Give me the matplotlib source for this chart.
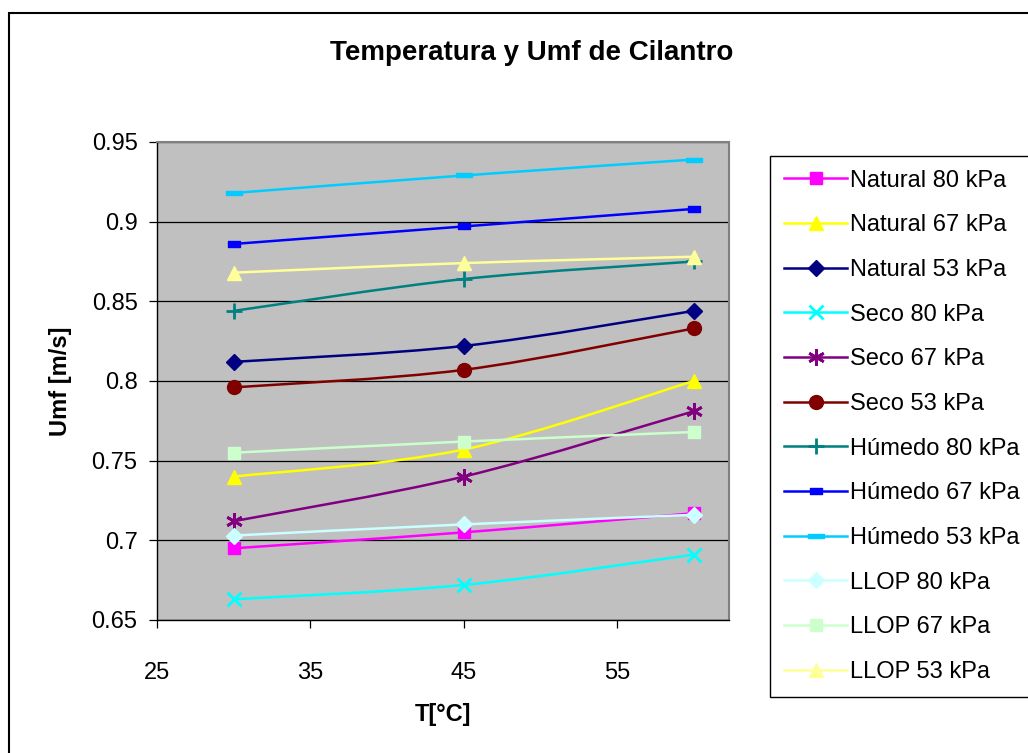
import numpy as np
import matplotlib
matplotlib.use('Agg')
import matplotlib.pyplot as plt
from matplotlib.path import Path
from matplotlib.patches import PathPatch, Rectangle
from matplotlib.lines import Line2D

plt.rcParams['font.family'] = ['Liberation Sans', 'DejaVu Sans']

# data
temps = [30, 45, 60]
series_names = ['Natural 80 kPa', 'Natural 67 kPa', 'Natural 53 kPa',
                'Seco 80 kPa', 'Seco 67 kPa', 'Seco 53 kPa',
                'Húmedo 80 kPa', 'Húmedo 67 kPa', 'Húmedo 53 kPa',
                'LLOP 80 kPa', 'LLOP 67 kPa', 'LLOP 53 kPa']
natural_80 = [0.695, 0.705, 0.717]
natural_67 = [0.740, 0.757, 0.800]
natural_53 = [0.812, 0.822, 0.844]
seco_80 = [0.663, 0.672, 0.691]
seco_67 = [0.712, 0.740, 0.781]
seco_53 = [0.796, 0.807, 0.833]
humedo_80 = [0.844, 0.864, 0.875]
humedo_67 = [0.886, 0.897, 0.908]
humedo_53 = [0.918, 0.929, 0.939]
llop_80 = [0.703, 0.710, 0.716]
llop_67 = [0.755, 0.762, 0.768]
llop_53 = [0.868, 0.874, 0.878]
series_values = [natural_80, natural_67, natural_53,
                 seco_80, seco_67, seco_53,
                 humedo_80, humedo_67, humedo_53,
                 llop_80, llop_67, llop_53]
y_ticks = [0.65, 0.7, 0.75, 0.8, 0.85, 0.9, 0.95]
x_ticks = [25, 35, 45, 55]

# Excel-like dash markers (small flat rectangles)
short_dash = Path([(-0.6, -0.3), (0.6, -0.3), (0.6, 0.3), (-0.6, 0.3), (-0.6, -0.3)],
                  [Path.MOVETO, Path.LINETO, Path.LINETO, Path.LINETO, Path.CLOSEPOLY])
long_dash = Path([(-1, -0.3), (1, -0.3), (1, 0.3), (-1, 0.3), (-1, -0.3)],
                 [Path.MOVETO, Path.LINETO, Path.LINETO, Path.LINETO, Path.CLOSEPOLY])

styles = [
    ('#FF00FF', 's', 9, 1.0),
    ('#FFFF00', '^', 10, 1.0),
    ('#000080', 'D', 8, 1.0),
    ('#00FFFF', 'x', 10, 2.0),
    ('#800080', (6, 2, 0), 12, 2.0),
    ('#800000', 'o', 10, 1.0),
    ('#008080', '+', 12, 2.0),
    ('#0000FF', short_dash, 9, 1.0),
    ('#00CCFF', long_dash, 11, 1.0),
    ('#CCFFFF', 'D', 8, 1.0),
    ('#CCFFCC', 's', 9, 1.0),
    ('#FFFF99', '^', 10, 1.0),
]


def smooth_path(xs, ys):
    """Catmull-Rom style smoothed path through the points (like Excel)."""
    p = np.column_stack([xs, ys]).astype(float)
    n = len(p)
    verts = [p[0]]
    codes = [Path.MOVETO]
    for i in range(n - 1):
        p0 = p[max(i - 1, 0)]
        p1 = p[i]
        p2 = p[i + 1]
        p3 = p[min(i + 2, n - 1)]
        c1 = p1 + (p2 - p0) / 6.0
        c2 = p2 - (p3 - p1) / 6.0
        verts += [c1, c2, p2]
        codes += [Path.CURVE4] * 3
    return Path(verts, codes)


fig = plt.figure(figsize=(10.28, 7.53), dpi=100)
ax = fig.add_axes([157 / 1028, 1 - 620 / 753, 572 / 1028, 478 / 753])
ax.set_facecolor('#C0C0C0')

handles = []
for name, vals, (color, marker, ms, mew) in zip(series_names, series_values, styles):
    patch = PathPatch(smooth_path(temps, vals), facecolor='none', edgecolor=color,
                      linewidth=1.8, zorder=3)
    ax.add_patch(patch)
    ax.plot(temps, vals, linestyle='none', marker=marker, markersize=ms,
            color=color, markeredgecolor=color, markeredgewidth=mew, zorder=4)
    handles.append(Line2D([], [], color=color, linewidth=1.8, marker=marker,
                          markersize=ms, markeredgecolor=color, markeredgewidth=mew))

ax.set_xlim(25, 62.3)
ax.set_ylim(0.65, 0.95)
ax.set_xticks(x_ticks)
ax.set_xticklabels([str(t) for t in x_ticks])
ax.set_yticks(y_ticks)
ax.set_yticklabels(['{:g}'.format(t) for t in y_ticks])
ax.yaxis.grid(True, color='black', linewidth=0.9)
ax.set_axisbelow(True)
ax.tick_params(axis='both', direction='out', length=6, width=0.9, labelsize=17)
ax.tick_params(axis='x', pad=24)
ax.tick_params(axis='y', pad=8)
for side in ax.spines.values():
    side.set_color('#808080')
    side.set_linewidth(1.5)
ax.spines['left'].set_color('black')
ax.spines['bottom'].set_color('black')
ax.spines['left'].set_linewidth(1.0)
ax.spines['bottom'].set_linewidth(1.0)

ax.set_xlabel('T[°C]', fontsize=17, fontweight='bold', labelpad=14)
ax.set_ylabel('Umf [m/s]', fontsize=17, fontweight='bold', labelpad=14)
fig.text(532 / 1028, 1 - 53 / 753, 'Temperatura y Umf de Cilantro', fontsize=20,
         fontweight='bold', ha='center', va='center')

leg = fig.legend(handles, series_names, loc='upper left',
                 bbox_to_anchor=(770 / 1028, 1 - 156 / 753), borderaxespad=0,
                 fontsize=17, frameon=True, fancybox=False, edgecolor='black',
                 framealpha=1, handlelength=2.7, handletextpad=0.1,
                 labelspacing=0.96, borderpad=0.58)
leg.get_frame().set_linewidth(1.0)

# outer chart border
fig.patches.append(Rectangle((9 / 1028, -0.1), 1.2, 1 - 13 / 753 + 0.1,
                             transform=fig.transFigure, fill=False,
                             edgecolor='black', linewidth=1.5))

fig.savefig('out.png', dpi=100)
